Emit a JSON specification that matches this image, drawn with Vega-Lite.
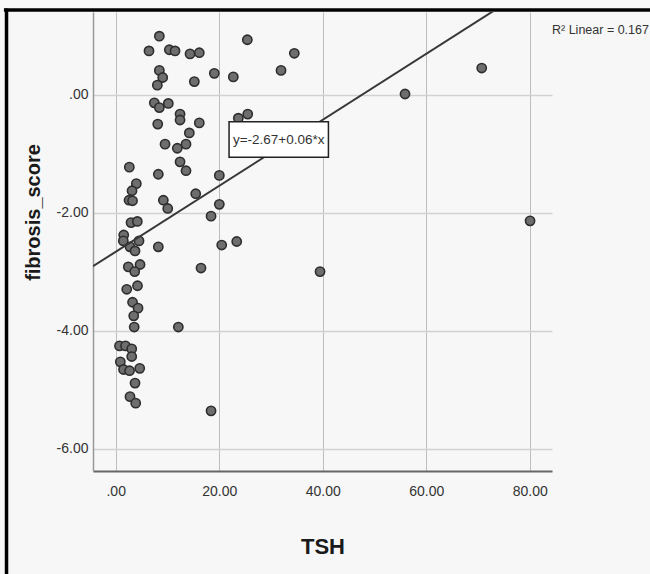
{
  "$schema": "https://vega.github.io/schema/vega-lite/v6.json",
  "width": 459,
  "height": 459,
  "autosize": "none",
  "padding": {"left": 93, "top": 12, "right": 98, "bottom": 103},
  "background": "#f7f7f7",
  "config": {
    "view": {"stroke": null, "fill": "#f7f7f7"},
    "font": "Liberation Sans, Arial, sans-serif"
  },
  "datasets": {
    "points": [
      {"TSH": 8.43, "fibrosis_score": 0.99},
      {"TSH": 6.43, "fibrosis_score": 0.74},
      {"TSH": 10.36, "fibrosis_score": 0.76},
      {"TSH": 11.46, "fibrosis_score": 0.74},
      {"TSH": 14.36, "fibrosis_score": 0.69},
      {"TSH": 16.15, "fibrosis_score": 0.71},
      {"TSH": 25.43, "fibrosis_score": 0.93},
      {"TSH": 34.51, "fibrosis_score": 0.70},
      {"TSH": 31.94, "fibrosis_score": 0.41},
      {"TSH": 19.05, "fibrosis_score": 0.36},
      {"TSH": 22.72, "fibrosis_score": 0.30},
      {"TSH": 15.19, "fibrosis_score": 0.22},
      {"TSH": 8.43, "fibrosis_score": 0.41},
      {"TSH": 9.08, "fibrosis_score": 0.29},
      {"TSH": 8.04, "fibrosis_score": 0.16},
      {"TSH": 7.46, "fibrosis_score": -0.14},
      {"TSH": 8.43, "fibrosis_score": -0.22},
      {"TSH": 10.16, "fibrosis_score": -0.15},
      {"TSH": 12.43, "fibrosis_score": -0.33},
      {"TSH": 12.43, "fibrosis_score": -0.43},
      {"TSH": 8.12, "fibrosis_score": -0.50},
      {"TSH": 16.15, "fibrosis_score": -0.48},
      {"TSH": 14.22, "fibrosis_score": -0.65},
      {"TSH": 9.53, "fibrosis_score": -0.84},
      {"TSH": 13.58, "fibrosis_score": -0.84},
      {"TSH": 11.90, "fibrosis_score": -0.91},
      {"TSH": 12.43, "fibrosis_score": -1.14},
      {"TSH": 13.58, "fibrosis_score": -1.29},
      {"TSH": 2.63, "fibrosis_score": -1.23},
      {"TSH": 8.23, "fibrosis_score": -1.35},
      {"TSH": 3.98, "fibrosis_score": -1.51},
      {"TSH": 3.15, "fibrosis_score": -1.63},
      {"TSH": 2.57, "fibrosis_score": -1.79},
      {"TSH": 3.25, "fibrosis_score": -1.80},
      {"TSH": 9.20, "fibrosis_score": -1.79},
      {"TSH": 10.05, "fibrosis_score": -1.93},
      {"TSH": 20.02, "fibrosis_score": -1.37},
      {"TSH": 15.46, "fibrosis_score": -1.68},
      {"TSH": 20.02, "fibrosis_score": -1.86},
      {"TSH": 18.42, "fibrosis_score": -2.06},
      {"TSH": 2.96, "fibrosis_score": -2.17},
      {"TSH": 4.17, "fibrosis_score": -2.15},
      {"TSH": 1.55, "fibrosis_score": -2.38},
      {"TSH": 1.47, "fibrosis_score": -2.48},
      {"TSH": 4.50, "fibrosis_score": -2.48},
      {"TSH": 2.76, "fibrosis_score": -2.58},
      {"TSH": 3.73, "fibrosis_score": -2.65},
      {"TSH": 8.23, "fibrosis_score": -2.58},
      {"TSH": 20.48, "fibrosis_score": -2.55},
      {"TSH": 23.38, "fibrosis_score": -2.49},
      {"TSH": 2.43, "fibrosis_score": -2.92},
      {"TSH": 4.70, "fibrosis_score": -2.88},
      {"TSH": 3.67, "fibrosis_score": -3.00},
      {"TSH": 16.48, "fibrosis_score": -2.94},
      {"TSH": 2.13, "fibrosis_score": -3.30},
      {"TSH": 4.21, "fibrosis_score": -3.24},
      {"TSH": 3.25, "fibrosis_score": -3.52},
      {"TSH": 4.31, "fibrosis_score": -3.62},
      {"TSH": 3.48, "fibrosis_score": -3.75},
      {"TSH": 3.57, "fibrosis_score": -3.94},
      {"TSH": 12.10, "fibrosis_score": -3.94},
      {"TSH": 0.73, "fibrosis_score": -4.26},
      {"TSH": 1.89, "fibrosis_score": -4.26},
      {"TSH": 3.09, "fibrosis_score": -4.31},
      {"TSH": 3.09, "fibrosis_score": -4.44},
      {"TSH": 0.89, "fibrosis_score": -4.53},
      {"TSH": 1.51, "fibrosis_score": -4.66},
      {"TSH": 2.67, "fibrosis_score": -4.68},
      {"TSH": 4.64, "fibrosis_score": -4.64},
      {"TSH": 3.73, "fibrosis_score": -4.89},
      {"TSH": 2.76, "fibrosis_score": -5.12},
      {"TSH": 3.86, "fibrosis_score": -5.23},
      {"TSH": 18.42, "fibrosis_score": -5.36},
      {"TSH": 39.48, "fibrosis_score": -3.00},
      {"TSH": 55.90, "fibrosis_score": 0.01},
      {"TSH": 70.72, "fibrosis_score": 0.45},
      {"TSH": 80.06, "fibrosis_score": -2.14},
      {"TSH": 23.69, "fibrosis_score": -0.40},
      {"TSH": 25.51, "fibrosis_score": -0.33}
    ],
    "fit": [
      {"TSH": -4.39, "fibrosis_score": -2.91},
      {"TSH": 84.3, "fibrosis_score": 2.05}
    ],
    "box": [
      {"TSH": 21.9, "TSH2": 41.1, "fibrosis_score": -0.46, "y2": -1.06, "label": "y=-2.67+0.06*x", "cx": 31.5, "cy": -0.77}
    ],
    "r2": [
      {"TSH": 84.3, "fibrosis_score": 1.03, "label": "R² Linear = 0.167"}
    ],
    "frameTop": [
      {"TSH": -21.6, "TSH2": 104, "fibrosis_score": 1.435}
    ],
    "frameLeft": [
      {"TSH": -21.1, "fibrosis_score": 1.46, "y2": -8.3}
    ]
  },
  "encoding": {
    "x": {
      "field": "TSH", "type": "quantitative",
      "scale": {"domain": [-4.39, 84.3], "nice": false, "zero": false},
      "axis": {
        "values": [0, 20, 40, 60, 80],
        "labelExpr": "datum.value == 0 ? '.00' : replace(format(datum.value, '.2f'), '\u2212', '-')",
        "title": "TSH",
        "titleFontSize": 22, "titleFontWeight": "bold", "titleColor": "#1a1a1a",
        "titlePadding": 38,
        "labelFontSize": 14, "labelColor": "#333", "labelPadding": 13,
        "ticks": false,
        "domainColor": "#666", "domainWidth": 2,
        "gridColor": "#bdbdbd", "gridWidth": 1
      }
    },
    "y": {
      "field": "fibrosis_score", "type": "quantitative",
      "scale": {"domain": [-6.38, 1.40], "nice": false, "zero": false},
      "axis": {
        "values": [0, -2, -4, -6],
        "labelExpr": "datum.value == 0 ? '.00' : replace(format(datum.value, '.2f'), '\u2212', '-')",
        "title": "fibrosis_score",
        "titleFontSize": 20, "titleFontWeight": "bold", "titleColor": "#1a1a1a",
        "titleX": -60, "titleY": 200, "titleAngle": -90, "titleAlign": "center", "titleBaseline": "middle",
        "labelFontSize": 14, "labelColor": "#333", "labelPadding": 5,
        "ticks": false,
        "domainColor": "#999", "domainWidth": 1.5,
        "gridColor": "#d2d2d2", "gridWidth": 1.5
      }
    }
  },
  "layer": [
    {
      "data": {"name": "points"},
      "mark": {"type": "point", "filled": true, "shape": "circle", "size": 85, "fill": "#6e6e6e", "stroke": "#2e2e2e", "strokeWidth": 1.6, "opacity": 1}
    },
    {
      "data": {"name": "fit"},
      "mark": {"type": "line", "color": "#383838", "strokeWidth": 2, "clip": true}
    },
    {
      "data": {"name": "box"},
      "mark": {"type": "rect", "fill": "#ffffff", "stroke": "#222", "strokeWidth": 1.5},
      "encoding": {
        "x2": {"field": "TSH2"},
        "y2": {"field": "y2"}
      }
    },
    {
      "data": {"name": "box"},
      "mark": {"type": "text", "fontSize": 13.5, "color": "#333", "align": "center", "baseline": "middle"},
      "encoding": {
        "x": {"field": "cx", "type": "quantitative"},
        "y": {"field": "cy", "type": "quantitative"},
        "text": {"field": "label"}
      }
    },
    {
      "data": {"name": "r2"},
      "mark": {"type": "text", "fontSize": 12.5, "color": "#333", "align": "left", "baseline": "alphabetic"},
      "encoding": {"text": {"field": "label"}}
    },
    {
      "data": {"name": "frameTop"},
      "mark": {"type": "rule", "color": "#000000", "strokeWidth": 3.5},
      "encoding": {
        "x2": {"field": "TSH2"}
      }
    },
    {
      "data": {"name": "frameLeft"},
      "mark": {"type": "rule", "color": "#000000", "strokeWidth": 3.5},
      "encoding": {
        "y2": {"field": "y2"}
      }
    }
  ]
}
